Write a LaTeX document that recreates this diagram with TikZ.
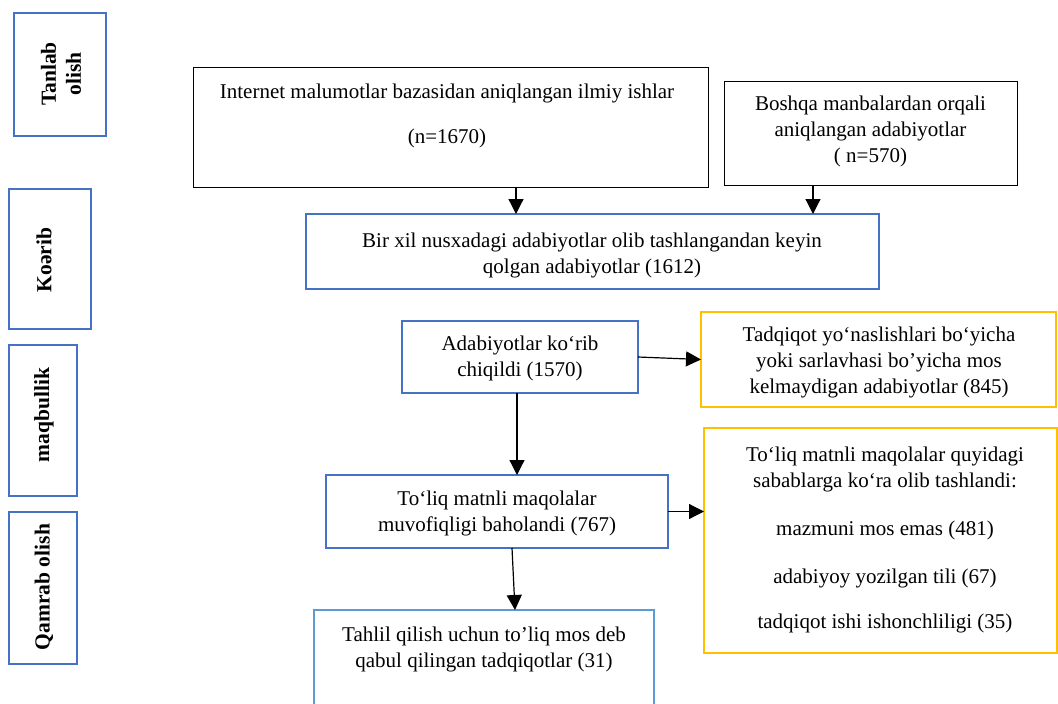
\documentclass[tikz,border=0pt]{standalone}
\usepackage{fontspec}
\setmainfont{Liberation Serif}
\usetikzlibrary{arrows.meta}
\definecolor{boxblue}{HTML}{4472C4}
\definecolor{lightblue}{HTML}{5B9BD5}
\definecolor{boxyellow}{HTML}{FFC000}
\begin{document}
\begin{tikzpicture}[x=1pt,y=-1pt,
  base/.style={inner sep=0pt, outer sep=0pt, anchor=center},
  blackbox/.style={base, draw=black, line width=1pt},
  bluebox/.style={base, draw=boxblue, line width=2pt},
  lbluebox/.style={base, draw=lightblue, line width=2pt},
  yellowbox/.style={base, draw=boxyellow, line width=2pt},
  txt/.style={inner sep=0pt, align=center, font=\fontsize{21}{26}\selectfont},
  sidetxt/.style={inner sep=0pt, align=center, rotate=90, font=\fontsize{21.5}{25}\selectfont\bfseries},
  arr/.style={line width=1.2pt, -{Triangle[length=15pt,width=15pt]}}
]
\useasboundingbox (0,0) rectangle (1058,704);
\clip (0,0) rectangle (1058,704);

% side labels
\node[bluebox, minimum width=92pt, minimum height=123pt] (stage1) at (60,74.5) {};
\node[sidetxt] (stage1t) at (61,74) {Tanlab\\olish};
\node[bluebox, minimum width=82pt, minimum height=140pt] (stage2) at (50,259) {};
\node[sidetxt] (stage2t) at (44,260) {Koərib};
\node[bluebox, minimum width=68pt, minimum height=151pt] (stage3) at (43,420.5) {};
\node[sidetxt] (stage3t) at (44,415) {maqbullik};
\node[bluebox, minimum width=68pt, minimum height=152pt] (stage4) at (43,588) {};
\node[sidetxt] (stage4t) at (44,587) {Qamrab olish};

% main boxes
\node[blackbox, minimum width=515pt, minimum height=120pt] (inet) at (450.5,127) {};
\node[txt] (inett) at (447,115.5) {Internet malumotlar bazasidan aniqlangan ilmiy ishlar\\[19pt](n=1670)};

\node[blackbox, minimum width=293pt, minimum height=104pt] (bosh) at (870.5,133) {};
\node[txt] (bosht) at (870.5,131) {Boshqa manbalardan orqali\\aniqlangan adabiyotlar\\( n=570)};

\node[bluebox, minimum width=573pt, minimum height=75pt] (bir) at (592.5,251.5) {};
\node[txt] (birt) at (592,255) {Bir xil nusxadagi adabiyotlar olib tashlangandan keyin\\qolgan adabiyotlar (1612)};

\node[bluebox, minimum width=236pt, minimum height=72pt] (adab) at (520,357) {};
\node[txt] (adabt) at (520,358.5) {Adabiyotlar ko‘rib\\chiqildi (1570)};

\node[bluebox, minimum width=342pt, minimum height=73pt] (tol) at (497,511.5) {};
\node[txt] (tolt) at (497,513.5) {To‘liq matnli maqolalar\\muvofiqligi baholandi (767)};

\node[lbluebox, minimum width=340pt, minimum height=110pt] (tahlil) at (484,665) {};
\node[txt] (tahlilt) at (484,649.5) {Tahlil qilish uchun to’liq mos deb\\qabul qilingan tadqiqotlar (31)};

\node[yellowbox, minimum width=355pt, minimum height=95pt] (tadq) at (878.5,359.5) {};
\node[txt] (tadqt) at (879,362.5) {Tadqiqot yo‘naslishlari bo‘yicha\\yoki sarlavhasi bo’yicha mos\\kelmaydigan adabiyotlar (845)};

\node[yellowbox, minimum width=353pt, minimum height=225pt] (reas) at (880.5,540.5) {};
\node[txt] (reast) at (885,540) {To‘liq matnli maqolalar quyidagi\\sabablarga ko‘ra olib tashlandi:\\[22pt]mazmuni mos emas (481)\\[22pt]adabiyoy yozilgan tili (67)\\[19pt]tadqiqot ishi ishonchliligi (35)};

% connectors
\coordinate (c1) at (516,0);
\coordinate (c2) at (813,0);
\coordinate (c3) at (517,0);
\draw[arr] (inet.south -| c1) -- (bir.north -| c1);
\draw[arr] (bosh.south -| c2) -- (bir.north -| c2);
\draw[arr] (adab.east) -- (tadq.west);
\draw[arr] (adab.south -| c3) -- (tol.north -| c3);
\draw[arr] (tol.east) -- (tol.east -| reas.west);
\draw[arr] ([xshift=15pt]tol.south) -- ([xshift=31pt]tahlil.north);
\end{tikzpicture}
\end{document}
